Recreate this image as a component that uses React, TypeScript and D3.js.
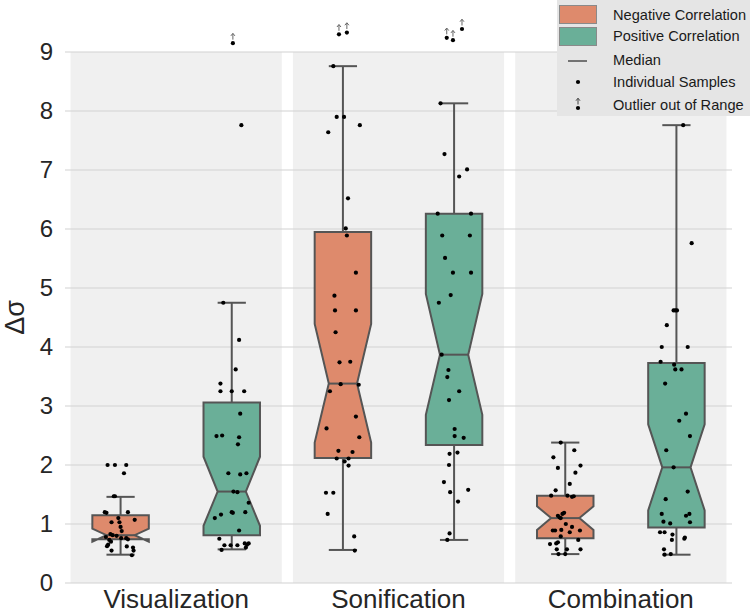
import React, { useEffect } from "react";
import * as d3 from "d3";

const categories = ["Visualization", "Sonification", "Combination"];
const hues = ["Negative Correlation", "Positive Correlation"];
const hueColors = ["#de8a6c", "#6aaf98"];
const yTicks = [0, 1, 2, 3, 4, 5, 6, 7, 8, 9];

// order: Viz-neg, Viz-pos, Son-neg, Son-pos, Comb-neg, Comb-pos
const groupCategory = [0, 0, 1, 1, 2, 2];
const groupHue = [0, 1, 0, 1, 0, 1];
const boxQ1 = [0.74, 0.81, 2.12, 2.34, 0.76, 0.94];
const boxMedian = [0.81, 1.55, 3.38, 3.87, 1.1, 1.96];
const boxQ3 = [1.15, 3.06, 5.95, 6.26, 1.48, 3.73];
const notchLow = [0.7, 0.97, 2.38, 2.85, 0.9, 1.23];
const notchHigh = [0.92, 2.14, 4.39, 4.9, 1.3, 2.69];
const whiskerLow = [0.48, 0.57, 0.56, 0.73, 0.49, 0.48];
const whiskerHigh = [1.46, 4.75, 8.76, 8.13, 2.38, 7.76];

// [value, jitter as fraction of box width]
const vizNegSamples = [
  [2.0, -0.23], [2.0, -0.1], [2.0, 0.1], [1.86, 0.06], [1.47, -0.12], [1.47, -0.1],
  [1.2, -0.28], [1.19, -0.25], [1.2, 0.13], [1.1, -0.04], [1.07, 0.25], [1.03, -0.16],
  [1.03, -0.02], [0.95, 0.0], [0.88, 0.02], [0.83, -0.18], [0.78, -0.26], [0.81, -0.14],
  [0.8, -0.07], [0.76, 0.01], [0.76, 0.1], [0.74, 0.13], [0.73, -0.2], [0.7, -0.17],
  [0.65, -0.22], [0.625, -0.24], [0.62, 0.11], [0.6, 0.22], [0.55, -0.16], [0.55, 0.23],
  [0.47, 0.2],
];
const vizPosSamples = [
  [7.76, 0.17], [4.75, -0.15], [4.12, 0.13], [3.62, 0.07], [3.38, -0.2], [3.25, -0.2],
  [3.25, 0.0], [3.25, 0.22], [2.87, 0.15], [2.49, -0.27], [2.5, -0.17], [2.47, 0.13],
  [2.35, 0.11], [1.86, -0.06], [1.84, 0.15], [1.86, 0.26], [1.55, 0.03], [1.54, 0.1],
  [1.36, 0.3], [1.1, -0.3], [1.16, -0.19], [1.2, 0.0], [1.19, 0.02], [1.2, 0.24],
  [0.89, 0.13], [0.75, -0.22], [0.64, -0.13], [0.64, -0.02], [0.64, 0.1], [0.67, 0.23],
  [0.65, 0.27], [0.67, 0.3], [0.6, 0.25], [0.56, -0.18],
];
const sonNegSamples = [
  [8.76, -0.17], [7.9, -0.11], [7.9, 0.02], [7.76, 0.3], [7.64, -0.26], [6.52, 0.09],
  [6.01, 0.05], [5.89, 0.07], [5.26, 0.23], [4.87, -0.15], [4.62, -0.14], [4.62, 0.23],
  [4.25, -0.13], [3.74, -0.06], [3.75, 0.13], [3.37, -0.04], [3.36, 0.28], [3.25, -0.23],
  [2.82, 0.23], [2.62, -0.29], [2.47, 0.29], [2.24, -0.08], [2.22, 0.17], [2.11, -0.11],
  [2.06, 0.03], [2.11, 0.1], [1.99, 0.1], [1.53, -0.3], [1.53, -0.17], [1.17, -0.27],
  [0.79, 0.2], [0.55, 0.21],
];
const sonPosSamples = [
  [8.13, -0.24], [7.27, -0.17], [7.01, 0.23], [6.89, 0.09], [6.26, -0.29], [6.26, 0.3],
  [5.89, -0.21], [5.89, 0.28], [5.51, -0.16], [5.26, -0.02], [5.26, 0.3], [4.88, -0.06],
  [4.75, -0.27], [3.87, -0.22], [3.61, -0.1], [3.49, -0.12], [3.25, 0.09], [3.1, -0.09],
  [2.61, 0.01], [2.49, 0.01], [2.46, 0.17], [2.19, -0.08], [2.21, 0.06], [2.0, -0.09],
  [1.71, -0.18], [1.58, 0.25], [1.54, -0.07], [1.38, 0.07], [0.84, -0.08], [0.73, -0.12],
];
const combNegSamples = [
  [2.38, -0.08], [2.25, 0.16], [2.13, -0.21], [1.95, -0.13], [1.99, 0.27], [1.87, 0.18],
  [1.68, 0.08], [1.57, -0.17], [1.48, -0.25], [1.48, 0.04], [1.46, 0.12], [1.47, 0.15],
  [1.19, -0.02], [1.17, -0.05], [1.14, -0.13], [1.11, -0.1], [1.1, -0.08], [1.0, 0.01],
  [0.95, 0.12], [0.9, -0.07], [0.89, -0.22], [0.89, -0.18], [0.89, 0.26], [0.86, 0.08],
  [0.79, -0.08], [0.73, 0.23], [0.69, -0.13], [0.67, -0.16], [0.66, -0.27], [0.57, 0.03],
  [0.57, -0.15], [0.57, 0.27], [0.49, -0.12], [0.49, 0.0],
];
const combPosSamples = [
  [7.76, 0.12], [5.76, 0.27], [4.62, -0.05], [4.62, -0.02], [4.62, 0.01], [4.37, -0.17],
  [4.0, -0.26], [4.0, 0.2], [3.75, -0.28], [3.7, -0.04], [3.62, -0.02], [3.62, 0.09],
  [3.38, -0.2], [2.87, 0.17], [2.75, 0.05], [2.49, 0.24], [2.25, -0.18], [1.96, -0.05],
  [1.55, 0.2], [1.42, -0.19], [1.17, -0.26], [1.17, 0.23], [1.14, 0.17], [1.04, -0.23],
  [1.01, -0.11], [1.03, 0.24], [0.86, -0.29], [0.86, -0.21], [0.82, -0.07], [0.73, -0.08],
  [0.75, 0.14], [0.77, 0.15], [0.57, -0.22], [0.48, -0.21], [0.49, -0.1],
];
const groupSamples = [vizNegSamples, vizPosSamples, sonNegSamples, sonPosSamples, combNegSamples, combPosSamples];

// outliers out of range (shown above the axis top)
const vizPosOutliers = [[9.15, 0.02]];
const sonNegOutliers = [[9.3, -0.07], [9.33, 0.07]];
const sonPosOutliers = [[9.24, -0.13], [9.2, -0.02], [9.39, 0.14]];
const groupOutliers = [[], vizPosOutliers, sonNegOutliers, sonPosOutliers, [], []];

const legendLabels = ["Negative Correlation", "Positive Correlation", "Median", "Individual Samples", "Outlier out of Range"];

const W = 750;
const H = 614;
const FONT = "'Liberation Sans', Arial, sans-serif";
const EDGE = "#555555";

export default function App() {
  useEffect(() => {
    document.body.style.margin = "0";
  }, []);

  const x = d3.scaleBand().domain(categories).range([65, 732]).padding(0);
  const step = x.bandwidth();
  const hx = d3.scaleBand().domain(hues).range([0, step]).padding(0);
  const boxW = hx.bandwidth() * 0.508;
  const y = d3.scaleLinear().domain([0, 9]).range([583, 52]);
  const line = d3.line();

  const arrow = (cx: number, cy: number, key: string, color = "#666") => (
    <g key={key} stroke={color} strokeWidth={1} fill="none">
      <line x1={cx} x2={cx} y1={cy - 3.5} y2={cy - 9.5} />
      <polyline points={`${cx - 2},${cy - 7.3} ${cx},${cy - 9.8} ${cx + 2},${cy - 7.3}`} />
    </g>
  );

  return (
    <svg width={W} height={H} style={{ position: "absolute", left: 0, top: 0, background: "#fff" }} fontFamily={FONT}>
      {/* panels */}
      {categories.map((c) => (
        <rect key={c} x={(x(c) as number) + step * 0.025} width={step * 0.95} y={y(9)} height={y(0) - y(9)} fill="#f0f0f0" />
      ))}
      {/* gridlines */}
      {yTicks.map((t) => (
        <line key={t} x1={65} x2={732} y1={y(t)} y2={y(t)} stroke="#d2d2d2" strokeWidth={1.2} />
      ))}
      {/* tick labels */}
      {yTicks.map((t) => (
        <text key={t} x={53} y={y(t)} dy="0.35em" textAnchor="end" fontSize={24} fill="#262626">
          {t}
        </text>
      ))}
      <text transform={`translate(24,${(y(0) + y(9)) / 2}) rotate(-90)`} textAnchor="middle" fontSize={27} fill="#262626">
        Δσ
      </text>
      {categories.map((c) => (
        <text key={c} x={(x(c) as number) + step / 2} y={608} textAnchor="middle" fontSize={26} fill="#262626">
          {c}
        </text>
      ))}
      {/* boxes */}
      {groupCategory.map((ci, g) => {
        const cx = (x(categories[ci]) as number) + (hx(hues[groupHue[g]]) as number) + hx.bandwidth() / 2;
        const l = cx - boxW / 2;
        const r = cx + boxW / 2;
        const nl = cx - boxW / 4;
        const nr = cx + boxW / 4;
        const pts: [number, number][] = [
          [l, y(boxQ1[g])], [l, y(notchLow[g])], [nl, y(boxMedian[g])], [l, y(notchHigh[g])], [l, y(boxQ3[g])],
          [r, y(boxQ3[g])], [r, y(notchHigh[g])], [nr, y(boxMedian[g])], [r, y(notchLow[g])], [r, y(boxQ1[g])],
        ];
        return (
          <g key={g}>
            <line x1={cx} x2={cx} y1={y(boxQ1[g])} y2={y(whiskerLow[g])} stroke={EDGE} strokeWidth={2} />
            <line x1={cx} x2={cx} y1={y(boxQ3[g])} y2={y(whiskerHigh[g])} stroke={EDGE} strokeWidth={2} />
            <line x1={nl} x2={nr} y1={y(whiskerLow[g])} y2={y(whiskerLow[g])} stroke={EDGE} strokeWidth={2} />
            <line x1={nl} x2={nr} y1={y(whiskerHigh[g])} y2={y(whiskerHigh[g])} stroke={EDGE} strokeWidth={2} />
            <path d={line(pts) + "Z"} fill={hueColors[groupHue[g]]} stroke={EDGE} strokeWidth={2} strokeLinejoin="miter" />
            <line x1={nl} x2={nr} y1={y(boxMedian[g])} y2={y(boxMedian[g])} stroke={EDGE} strokeWidth={2} />
            {groupSamples[g].map(([v, j], i) => (
              <circle key={i} cx={cx + j * boxW} cy={y(v)} r={2.1} fill="#000" />
            ))}
            {groupOutliers[g].map(([v, j], i) => (
              <g key={"o" + i}>
                <circle cx={cx + j * boxW} cy={y(v)} r={2.1} fill="#000" />
                {arrow(cx + j * boxW, y(v), "a" + i)}
              </g>
            ))}
          </g>
        );
      })}
      {/* legend */}
      <g>
        <rect x={557} y={0} width={193} height={116} fill="#e5e5e5" />
        <rect x={559.5} y={5.5} width={37} height={18} fill={hueColors[0]} stroke="#8a8a8a" strokeWidth={1} />
        <rect x={559.5} y={27.5} width={37} height={18} fill={hueColors[1]} stroke="#8a8a8a" strokeWidth={1} />
        <line x1={568} x2={587} y1={61} y2={61} stroke="#000" strokeWidth={1} />
        <circle cx={578} cy={82} r={2.1} fill="#000" />
        <circle cx={578} cy={108} r={2.1} fill="#000" />
        {arrow(578, 108, "legarrow", "#444")}
        {legendLabels.map((t, i) => (
          <text key={t} x={613} y={[14.5, 36, 60, 82, 105][i]} dy="0.35em" fontSize={14.6} fill="#1a1a1a">
            {t}
          </text>
        ))}
      </g>
    </svg>
  );
}
